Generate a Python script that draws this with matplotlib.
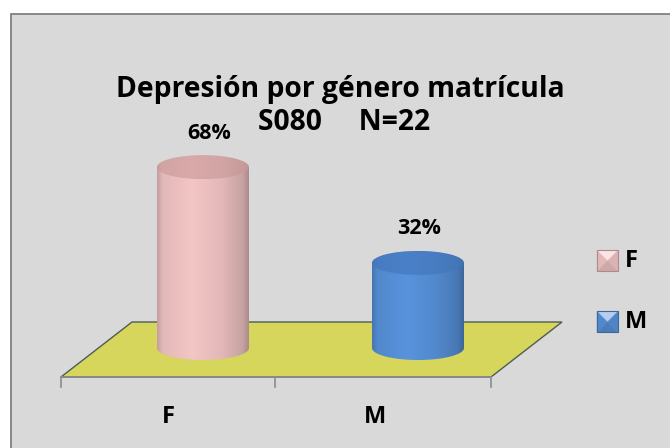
import matplotlib
matplotlib.use('Agg')
import matplotlib.pyplot as plt
import numpy as np
from matplotlib.patches import Rectangle, Polygon, Ellipse, PathPatch
from matplotlib.path import Path
import matplotlib.colors as mcolors

# ---- data ----
categories = ['F', 'M']
values = [68, 32]
value_labels = ['68%', '32%']
title_line1 = 'Depresión por género matrícula'
title_line2 = 'S080     N=22'
bar_colors = ['#f4c6c6', '#5893dc']
top_colors = ['#d9a9a9', '#4a80c8']

FONT = 'Open Sans'
W, H = 670, 448
fig = plt.figure(figsize=(6.7, 4.48), dpi=100, facecolor='white')

# background (pixel space)
bg = fig.add_axes([0, 0, 1, 1])
bg.set_xlim(0, W); bg.set_ylim(H, 0); bg.axis('off')
bg.add_patch(Rectangle((11, 14), 700, 500, facecolor='#d9d9d9', edgecolor='#808080', lw=1.3))

# floor
bg.add_patch(Polygon([(61, 377), (491, 377), (562, 322), (132, 322)], closed=True,
                     facecolor='#d5d65b', edgecolor='#4f5b55', lw=1.0, zorder=1))
bg.plot([61, 491], [377, 377], color='#8c8c8c', lw=1.2, zorder=2)
for tx in (61, 275, 491):
    bg.plot([tx, tx], [377, 387], color='#8c8c8c', lw=1.2, zorder=2)

# category labels at front edge
front_centers = [168, 375]
for cx, c in zip(front_centers, categories):
    bg.text(cx, 417, c, ha='center', va='center', fontsize=17, fontweight='bold',
            family=FONT, color='black')

# titles
bg.text(340, 89, title_line1, ha='center', va='center', fontsize=20.3, fontweight='bold',
        family=FONT, color='black')
bg.text(344, 122, title_line2, ha='center', va='center', fontsize=20.3, fontweight='bold',
        family=FONT, color='black')

# ---- data axes: x = category index, y = value ----
x0px, dxpx = 203.0, 215.0
base_px, ky = 348.0, 2.66
ax = fig.add_axes([0, 0, 1, 1])
ax.set_xlim((0 - x0px) / dxpx, (W - x0px) / dxpx)
ax.set_ylim((base_px - H) / ky, base_px / ky)
ax.axis('off')
ax.patch.set_alpha(0)

w = 92 / dxpx
ry = 12 / ky


def shade(color, n=200, pos=(0, 0.06, 0.38, 0.7, 0.93, 1.0),
          fac=(0.8, 0.93, 1.0, 0.93, 0.82, 0.7)):
    rgb = np.array(mcolors.to_rgb(color))
    t = np.linspace(0, 1, n)
    f = np.interp(t, pos, fac)
    img = np.clip(rgb[None, :] * f[:, None], 0, 1)
    return img[None, :, :]


for i, v in enumerate(values):
    xl, xr = i - w / 2, i + w / 2
    th = np.linspace(np.pi, 2 * np.pi, 60)
    arc = np.column_stack([i + (w / 2) * np.cos(th), ry * np.sin(th)])
    verts = np.vstack([[[xl, v]], [[xl, 0]], arc, [[xr, 0]], [[xr, v]], [[xl, v]]])
    body = PathPatch(Path(verts), facecolor='none', edgecolor='none', zorder=3)
    ax.add_patch(body)
    im = ax.imshow(shade(bar_colors[i]), extent=(xl, xr, -ry, v), aspect='auto',
                   zorder=3, interpolation='bilinear')
    im.set_clip_path(body)
    top = Ellipse((i, v), w, 2 * ry, facecolor='none', edgecolor='none', zorder=4)
    ax.add_patch(top)
    im2 = ax.imshow(shade(top_colors[i], fac=(0.92, 0.97, 1.0, 0.97, 0.92, 0.88)),
                    extent=(xl, xr, v - ry, v + ry), aspect='auto', zorder=4,
                    interpolation='bilinear')
    im2.set_clip_path(top)
    ax.annotate(value_labels[i], xy=(i, v), xytext=(6 if i == 0 else 1, 34),
                textcoords='offset pixels', ha='center', va='center', fontsize=15.5,
                fontweight='bold', family=FONT, color='black', zorder=5)

# legend (pixel space)
leg_y = [261, 322]
for y, c, col in zip(leg_y, categories, bar_colors):
    x0, x1, y0, y1 = 597, 618, y - 10.5, y + 10.5
    cxp, cyp = (x0 + x1) / 2, y
    rgb = np.array(mcolors.to_rgb(col))
    tri = [
        ([(x0, y0), (x1, y0), (cxp, cyp)], np.clip(rgb + (1 - rgb) * 0.55, 0, 1)),
        ([(x0, y0), (x0, y1), (cxp, cyp)], rgb * 0.93),
        ([(x1, y0), (x1, y1), (cxp, cyp)], rgb * 0.9),
        ([(x0, y1), (x1, y1), (cxp, cyp)], rgb * 0.85),
    ]
    for pts, fc in tri:
        bg.add_patch(Polygon(pts, closed=True, facecolor=fc, edgecolor=fc, lw=0.3, zorder=5))
    bg.add_patch(Rectangle((x0, y0), x1 - x0, y1 - y0, facecolor='none',
                           edgecolor=rgb * 0.7, lw=0.8, zorder=6))
    bg.text(625, y, c, ha='left', va='center', fontsize=17, fontweight='bold',
            family=FONT, color='black')

fig.savefig('out.png', dpi=100, facecolor='white')
